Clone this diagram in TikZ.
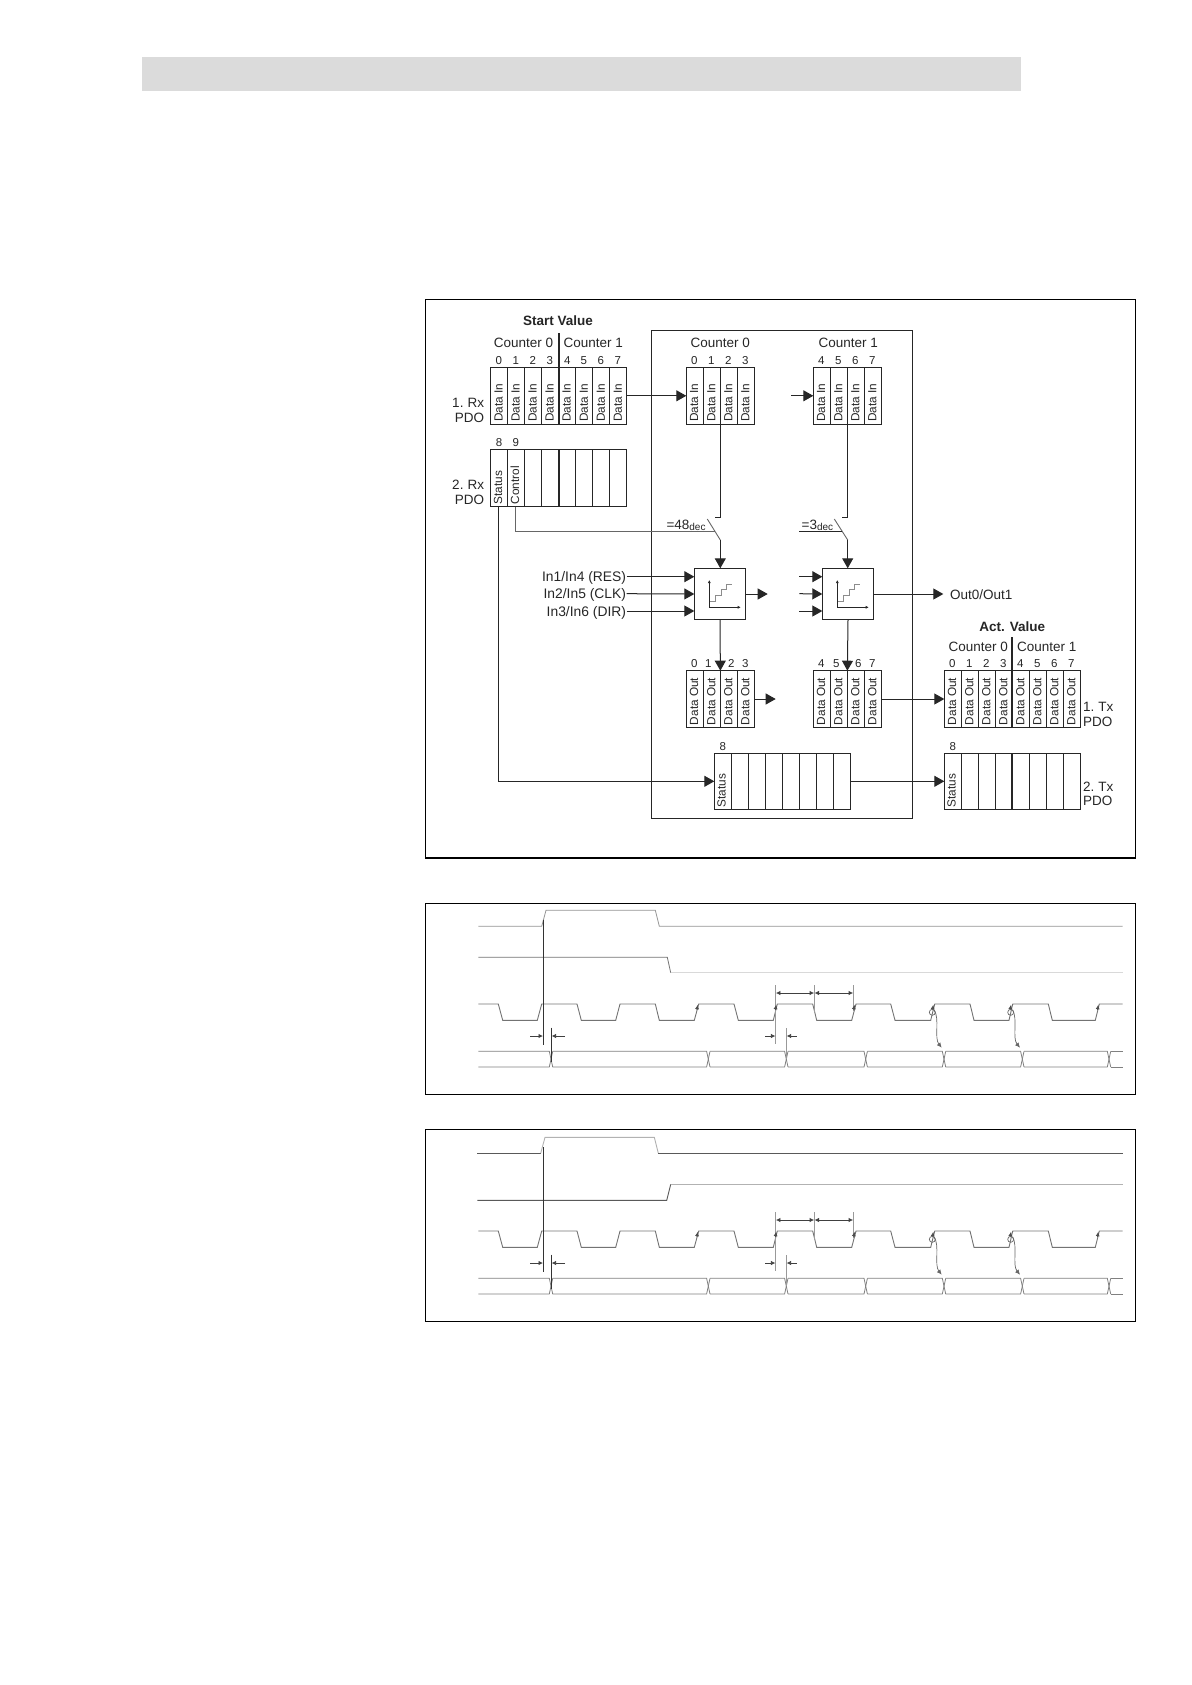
\documentclass[tikz,border=0pt]{standalone}
\usepackage{fontspec}
\setmainfont{Liberation Sans}
\usetikzlibrary{arrows.meta,calc}
\def\cw{17.03}
\tikzset{
  x=1pt,y=-1pt,
  frame/.style={draw=black,line width=1.2pt},
  tbl/.style={draw=black!85,line width=1.05pt,inner sep=0pt,outer sep=0pt,anchor=north west},
  cellline/.style={draw=black!85,line width=1pt},
  wire/.style={draw=black!85,line width=1pt},
  thinwire/.style={draw=black!60,line width=.9pt},
  arr/.style={wire,-{Triangle[length=10pt,width=11pt]}},
  divider/.style={draw=black!85,line width=2pt},
  txt/.style={inner sep=0pt,outer sep=0pt,text=black!85,font=\fontsize{13.5}{15}\selectfont},
  boldtxt/.style={txt,font=\fontsize{13.5}{15}\selectfont\bfseries},
  inptxt/.style={txt,font=\fontsize{13.85}{15}\selectfont},
  idx/.style={inner sep=0pt,outer sep=0pt,anchor=base,text=black!85,font=\fontsize{11.5}{13}\selectfont},
  celltxt/.style={inner sep=0pt,outer sep=0pt,rotate=90,anchor=base west,text=black!85,font=\fontsize{11.8}{13}\selectfont},
  block/.style={draw=black!85,line width=1.05pt,minimum width=51.4pt,minimum height=51.4pt,inner sep=0pt,outer sep=0pt,anchor=north west},
  sig/.style={draw=black!50,line width=.8pt},
  sigdark/.style={draw=black!65,line width=.9pt},
  siglight/.style={draw=black!30,line width=.9pt},
  sigfaint/.style={draw=black!15,line width=1pt},
  bus/.style={draw=black!50,line width=.8pt},
  vdark/.style={draw=black!80,line width=.9pt},
  vgray/.style={draw=black!40,line width=.8pt},
  dim/.style={draw=black!75,line width=.8pt,-{Latex[length=4.5pt,width=4.5pt]}},
  ddim/.style={draw=black!75,line width=.8pt,{Latex[length=4.5pt,width=4.5pt]}-{Latex[length=4.5pt,width=4.5pt]}},
  tick/.style={draw=black!70,line width=.7pt,-{Latex[length=4.5pt,width=4pt]}},
  curv/.style={draw=black!60,line width=.7pt,-{Latex[length=5pt,width=4.5pt]}},
}
% name, x, ytop, ybot, cells
\newcommand{\ptable}[5]{%
  \node[tbl,minimum width=#5*\cw pt,minimum height=#4pt-#3pt] (#1) at (#2,#3) {};
  \pgfmathtruncatemacro{\lastcell}{#5-1}%
  \foreach \i in {1,...,\lastcell}{\draw[cellline] ([xshift=\i*\cw pt]#1.north west) -- ([xshift=\i*\cw pt]#1.south west);}%
}
% table, label, cell count, bottom inset
\newcommand{\ctexts}[4]{%
  \pgfmathtruncatemacro{\lastcell}{#3-1}%
  \foreach \i in {0,...,\lastcell}{\node[celltxt] (#1-c\i) at ([xshift=\i*\cw pt+\cw pt/2+3.4pt,yshift=#4pt]#1.south west) {#2};}%
}
% table, list of xoffset/label
\newcommand{\idxs}[2]{%
  \foreach \p/\t in {#2}{\node[idx] (#1-n\t) at ([xshift=\p pt,yshift=3pt]#1.north west) {\t};}%
}
\newcommand{\stair}[1]{%
  \begin{scope}[shift={(#1.center)}]
    \draw[draw=black!45,line width=.9pt] (-10.7,7.7)--(-5,7.7)--(-5,1)--(1,1)--(1,-4.7)--(6.7,-4.7)--(6.7,-10)--(12,-10);
    \draw[draw=black!85,line width=.9pt,-{Latex[length=3pt,width=3pt]}] (-10.7,13.3)--(-10.7,-14);
    \draw[draw=black!85,line width=.9pt,-{Latex[length=3pt,width=3pt]}] (-10.7,13.3)--(20.7,13.3);
  \end{scope}%
}
% everything common in the two timing panels
\newcommand{\timingcommon}{%
  \draw[sigdark,draw=black!55] (478.3,1004)--(498.3,1004)--(502.7,1020.3)--(537.3,1020.3)--(541.7,1004)--(577,1004)--(581.3,1020.3)--(615.7,1020.3)--(620,1004)--(655.3,1004)--(659.3,1020.3)--(694.3,1020.3)--(698.7,1004)--(734,1004)--(738.3,1020.3)--(773.3,1020.3)--(777.3,1004)--(812.7,1004)--(816.7,1020.3)--(851.7,1020.3)--(856,1004)--(890.7,1004)--(895,1020.3)--(930.7,1020.3)--(934.7,1004)--(970,1004)--(974,1020.3)--(1009,1020.3)--(1012.7,1004)--(1048.3,1004)--(1052.3,1020.3)--(1095.3,1020.3)--(1099.3,1004)--(1122.7,1004);
  \foreach \busa/\busb in {476.6/551,551/708.3,708.3/786.3,786.3/865.7,865.7/944,944/1022.3,1022.3/1109}{
    \draw[bus] (\busa+1.7,1051.3)--(\busb-1.7,1051.3)--(\busb+1.7,1067);
    \draw[bus] (\busa+1.7,1067)--(\busb-1.7,1067)--(\busb+1.7,1051.3);
  }
  \draw[bus] (1110.7,1051.3)--(1122.7,1051.3);
  \draw[bus] (1110.7,1067)--(1122.7,1067);
  \draw[vdark] (543.3,920)--(543.3,1045);
  \draw[vdark] (551.3,1027.7)--(551.3,1061.7);
  \draw[dim] (530,1036)--(543,1036);
  \draw[dim] (565,1036)--(551.6,1036);
  \draw[vgray] (775.7,985)--(775.7,1044);
  \draw[vgray] (786.3,1028.3)--(786.3,1059);
  \draw[dim] (765,1036)--(775.4,1036);
  \draw[dim] (796.7,1036)--(786.6,1036);
  \draw[vgray] (814.3,985)--(814.3,1013);
  \draw[vgray] (853.3,985)--(853.3,1011);
  \draw[ddim] (775.9,993)--(814.1,993);
  \draw[ddim] (814.5,993)--(853.1,993);
  \foreach \a in {697.7,776.2,854.5,933.3,1011,1098.3}{\draw[tick] (\a-.8,1010)--(\a,1004.7);}
  \draw[draw=black!60,line width=.7pt] (932.3,1012.3) circle[radius=3pt];
  \draw[draw=black!60,line width=.7pt] (1010.7,1012.3) circle[radius=3pt];
  \draw[curv] (934,1010) .. controls (940,1018) and (934,1038) .. (941.7,1047.7);
  \draw[curv] (1012.5,1010) .. controls (1018,1018) and (1012,1038) .. (1020,1047.7);
}
\begin{document}
\begin{tikzpicture}
\useasboundingbox (0,0) rectangle (1191,1685);
% header band
\fill[black!14] (142,57) rectangle (1021,91);
% frames
\draw[frame] (425.3,299.5) rectangle (1135.7,858);
\draw[frame] (425.3,903.3) rectangle (1135.7,1094.3);
\draw[frame] (425.3,1129.3) rectangle (1135.7,1321.3);
\draw[wire] (651.3,330.4) rectangle (912.7,818.3);

% left tables
\node[boldtxt,anchor=base] (startval) at (558,326) {Start Value};
\node[txt,anchor=base] (cnt0a) at (523.4,347.5) {Counter 0};
\node[txt,anchor=base] (cnt1a) at (593.3,347.5) {Counter 1};
\ptable{rxa}{490.7}{367.3}{424.3}{8}
\ctexts{rxa}{Data In}{8}{2.7}
\idxs{rxa}{8/0,25/1,42/2,59/3,76.5/4,93/5,110/6,127/7}
\draw[divider] (558.8,333) -- (558.8,424.3);
\ptable{rxb}{490.7}{449.3}{506.7}{8}
\node[celltxt] (rxbs) at (502.1,504.3) {Status};
\node[celltxt] (rxbc) at (519.1,504.3) {Control};
\idxs{rxb}{8.3/8,25/9}
\draw[divider] (558.8,449.3) -- (558.8,506.7);
\node[txt,anchor=base east] (rx1a) at (484,407.5) {1.\kern-1pt{} Rx};
\node[txt,anchor=base east] (rx1b) at (484,422.5) {PDO};
\node[txt,anchor=base east] (rx2a) at (484,489) {2.\kern-1pt{} Rx};
\node[txt,anchor=base east] (rx2b) at (484,504.5) {PDO};

% counter inputs
\node[txt,anchor=base] (cnt0b) at (720.3,347.5) {Counter 0};
\node[txt,anchor=base] (cnt1b) at (848.3,347.5) {Counter 1};
\ptable{ina}{686.3}{367.3}{424.3}{4}
\ctexts{ina}{Data In}{4}{2.7}
\idxs{ina}{8/0,25/1,42/2,59/3}
\ptable{inb}{813.3}{367.3}{424.3}{4}
\ctexts{inb}{Data In}{4}{2.7}
\idxs{inb}{8/4,25/5,42/6,59/7}
\draw[arr] (rxa.east) -- (ina.west);
\coordinate (infree) at (791,395.8);
\draw[arr] (infree) -- (inb.west);

% blocks
\node[block] (blka) at (694.3,568.3) {};
\node[block] (blkb) at (822.3,568.3) {};
\stair{blka}
\stair{blkb}

% switches
\coordinate (swaup) at (720.3,424.3);
\coordinate (swat) at (720.3,517);
\coordinate (swab) at (720.3,540);
\draw[wire] (swaup) -- (swat) -- (714.7,517);
\draw[thinwire] (707.3,519) -- (swab);
\draw[arr] (swab) -- (swab |- blka.north);
\coordinate (swbup) at (847.7,424.3);
\coordinate (swbt) at (847.7,517);
\coordinate (swbb) at (847.7,540);
\draw[wire] (swbup) -- (swbt) -- (842.3,517);
\draw[thinwire] (834.3,519) -- (swbb);
\draw[arr] (swbb) -- (swbb |- blkb.north);
\coordinate (ctrl) at (515.7,506.7);
\draw[thinwire] (ctrl) |- (714.5,531.7);
\draw[wire] (799.3,531.7) -- (841.5,531.7);
\node[txt,anchor=base west] (eq48) at (666.5,529) {=48{\fontsize{10}{10}\selectfont\raisebox{-1pt}{dec}}};
\node[txt,anchor=base west] (eq3) at (801.7,529) {=3{\fontsize{10}{10}\selectfont\raisebox{-1pt}{dec}}};

% inputs to blocks
\node[inptxt,anchor=base east] (in1) at (626,581.5) {In1/In4 (RES)};
\node[inptxt,anchor=base east] (in2) at (626,598.5) {In2/In5 (CLK)};
\node[inptxt,anchor=base east] (in3) at (626,616) {In3/In6 (DIR)};
\draw[arr] (626.7,576.7) -- (694.3,576.7);
\draw[arr] (626.7,593.7) -- (blka.west);
\draw[arr] (626.7,611) -- (694.3,611);
\draw[arr] (799.3,576.7) -- (822.3,576.7);
\draw[arr] (799.3,593.7) -- (blkb.west);
\draw[arr] (799.3,611) -- (822.3,611);
\coordinate (afree) at (767.7,594);
\draw[arr] (blka.east) -- (afree);
\node[txt,anchor=base west] (outlbl) at (950,599) {Out0/Out1};
\coordinate (outend) at (943.3,594);
\draw[arr] (blkb.east) -- (outend);

% data out
\ptable{outa}{686.3}{670.7}{727.3}{4}
\ctexts{outa}{Data Out}{4}{2.3}
\idxs{outa}{8/0,22/1,45/2,59/3}
\ptable{outb}{813.3}{670.7}{727.3}{4}
\ctexts{outb}{Data Out}{4}{2.3}
\idxs{outb}{8/4,23/5,45/6,59/7}
\draw[arr] (blka.south) -- (outa.north);
\draw[arr] (blkb.south) -- (outb.north);
\coordinate (ofree) at (775.7,699);
\draw[arr] (outa.east) -- (ofree);

% status of the counter
\ptable{stm}{714.3}{753.3}{809.3}{8}
\node[celltxt] (stmt) at (725.7,807.3) {Status};
\idxs{stm}{8.5/8}
\draw[arr] (498.3,506.7) |- (stm.west);

% act value
\node[boldtxt,anchor=base] (actval) at (1012.3,631) {Act. Value};
\node[txt,anchor=base] (cnt0c) at (978.3,651) {Counter 0};
\node[txt,anchor=base] (cnt1c) at (1046.7,651) {Counter 1};
\ptable{txa}{944.3}{670.7}{727.3}{8}
\ctexts{txa}{Data Out}{8}{2.3}
\idxs{txa}{8/0,25/1,42/2,59/3,76/4,93/5,110/6,127/7}
\draw[divider] (1012.3,637.3) -- (1012.3,727.3);
\ptable{txb}{944.3}{753.3}{809.3}{8}
\node[celltxt] (txbs) at (955.7,807.3) {Status};
\idxs{txb}{8.5/8}
\draw[divider] (1012.3,753.3) -- (1012.3,809.3);
\draw[arr] (outb.east) -- (txa.west);
\draw[arr] (stm.east) -- (txb.west);
\node[txt,anchor=base west] (tx1a) at (1083,711) {1.\kern-1pt{} Tx};
\node[txt,anchor=base west] (tx1b) at (1083,726) {PDO};
\node[txt,anchor=base west] (tx2a) at (1083,791) {2.\kern-1pt{} Tx};
\node[txt,anchor=base west] (tx2b) at (1083,805.5) {PDO};

% timing panel 1
\draw[sig,draw=black!42] (478.3,926.3)--(541.7,926.3)--(546,910.3)--(655.3,910.3)--(659.3,926.3)--(1122.7,926.3);
\draw[sig,draw=black!55] (478.3,957.3)--(667.3,957.3)--(670.7,972.7);
\draw[sigfaint] (670.7,972.7)--(1122.7,972.7);
\timingcommon

% timing panel 2
\begin{scope}[yshift=-227pt]
\draw[sigdark] (477.3,926.3)--(540.7,926.3);
\draw[siglight] (540.7,926.3)--(545,910.3)--(654.3,910.3)--(658.3,926.3);
\draw[sigdark] (658.3,926.3)--(1122.7,926.3);
\draw[sigdark] (477.3,973.3)--(666.7,973.3)--(670.7,957.3);
\draw[siglight] (670.7,957.3)--(1122.7,957.3);
\timingcommon
\end{scope}
\end{tikzpicture}
\end{document}
